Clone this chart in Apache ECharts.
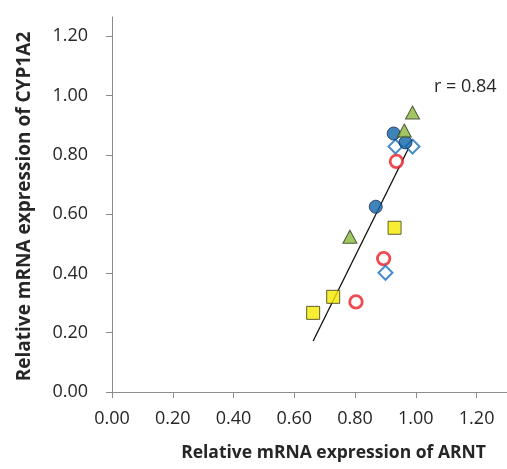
<!DOCTYPE html>
<html><head><meta charset="utf-8">
<script src="https://cdn.jsdelivr.net/npm/echarts@6/dist/echarts.min.js"></script>
<style>html,body{margin:0;padding:0;background:#fff}#c{width:507px;height:469px}</style>
</head><body><div id="c"></div>
<script>
const xTicks = [0, 0.2, 0.4, 0.6, 0.8, 1.0, 1.2];
const yTicks = [0, 0.2, 0.4, 0.6, 0.8, 1.0, 1.2];
const triangles = [[0.989,0.943],[0.962,0.882],[0.783,0.524]];
const filledCircles = [[0.927,0.872],[0.966,0.842],[0.868,0.625]];
const diamonds = [[0.933,0.828],[0.989,0.828],[0.900,0.402]];
const openCircles = [[0.936,0.778],[0.894,0.450],[0.803,0.304]];
const squares = [[0.930,0.554],[0.728,0.321],[0.662,0.267]];
const trendLine = [[0.662,0.172],[0.989,0.849]];
const rLabel = 'r = 0.84';

const font = 'Open Sans';
const chart = echarts.init(document.getElementById('c'), null, {renderer:'canvas'});
const axisCol = '#8c8c8c';
const txtCol = '#262626';
chart.setOption({
  animation:false,
  backgroundColor:'#fff',
  grid:{left:112, right:-4, top:17, bottom:77},
  xAxis:{type:'value', min:0, max:1.3,
    axisLine:{onZero:false, lineStyle:{color:axisCol}},
    axisTick:{show:true, length:6, customValues:xTicks, lineStyle:{color:axisCol}},
    splitLine:{show:false},
    axisLabel:{margin:18, color:txtCol, fontFamily:font, fontSize:18, customValues:xTicks,
      formatter:v=>v.toFixed(2)},
    name:'Relative mRNA expression of ARNT', nameLocation:'middle', nameGap:52,
    nameTextStyle:{fontFamily:font, fontWeight:'bold', fontSize:17.5, color:txtCol, padding:[0,0,0,48]}
  },
  yAxis:{type:'value', min:0, max:1.265,
    axisLine:{show:true, onZero:false, lineStyle:{color:axisCol}},
    axisTick:{show:true, length:6, customValues:yTicks, lineStyle:{color:axisCol}},
    splitLine:{show:false},
    axisLabel:{margin:24, color:txtCol, fontFamily:font, fontSize:18, customValues:yTicks,
      formatter:v=>v.toFixed(2)},
    name:'Relative mRNA expression of CYP1A2', nameLocation:'middle', nameGap:78,
    nameTextStyle:{fontFamily:font, fontWeight:'bold', fontSize:19, color:txtCol, padding:[0,4,0,0]}
  },
  graphic:[{type:'text', left:434, top:78, style:{text:rLabel, font:'18px "Open Sans"', fill:txtCol}}],
  series:[
    {type:'line', data:trendLine, symbol:'none', lineStyle:{color:'#111', width:1.3}, z:1},
    {type:'scatter', data:squares, symbol:'rect', symbolSize:13,
      itemStyle:{color:'#f5e800', borderColor:'#3a3a1a', borderWidth:1}, z:3},
    {type:'scatter', data:openCircles, symbol:'circle', symbolSize:12.5,
      itemStyle:{color:'#fff', borderColor:'#ec1c24', borderWidth:2.8}, z:3},
    {type:'scatter', data:diamonds, symbol:'diamond', symbolSize:[14,14],
      itemStyle:{color:'#fff', borderColor:'#1a6fc0', borderWidth:2}, z:3},
    {type:'scatter', data:filledCircles, symbol:'circle', symbolSize:13,
      itemStyle:{color:'#0f64aa', borderColor:'#1a2a4a', borderWidth:1}, z:4},
    {type:'scatter', data:triangles, symbol:'triangle', symbolSize:[14,13],
      itemStyle:{color:'#8cb83e', borderColor:'#2e3a1a', borderWidth:1}, z:4}
  ]
});
</script></body></html>
